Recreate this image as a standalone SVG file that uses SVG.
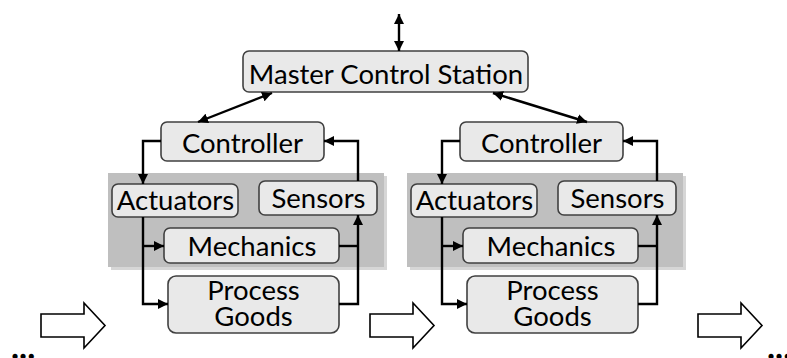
<svg xmlns="http://www.w3.org/2000/svg" width="787" height="358" viewBox="0 0 787 358">
<style>
.box{fill:#e9e9e9;stroke:#404040;stroke-width:1.6}
.bg{fill:#bfbfbf}
.sh{fill:#d6d6d6}
.t{font-family:Lato,"Liberation Sans",sans-serif;font-size:27.5px;fill:#000;text-anchor:middle}
.c{fill:none;stroke:#000;stroke-width:2.4}
.ha{fill:#fff;stroke:#000;stroke-width:1.6}
.dots{font-family:Lato,"Liberation Sans",sans-serif;font-size:34px;font-weight:bold;fill:#000}
</style>
<defs>
<marker id="ah" viewBox="0 0 10 10" refX="10" refY="5" markerWidth="10" markerHeight="10" markerUnits="userSpaceOnUse" orient="auto-start-reverse">
<path d="M0,0 L10,5 L0,10 z" fill="#000"/>
</marker>
</defs>
<g id="bg1"><rect class="sh" x="111" y="176" width="276" height="94"/><rect class="bg" x="108" y="173" width="276" height="94"/></g>
<g id="bg2" transform="translate(299,0)"><rect class="sh" x="111" y="176" width="276" height="94"/><rect class="bg" x="108" y="173" width="276" height="94"/></g>
<g id="mcs"><rect class="box" x="243" y="51" width="285" height="41" rx="6"/><text class="t" x="386" y="84">Master Control Station</text></g>
<g id="controller1"><rect class="box" x="161" y="122" width="163" height="39" rx="6"/><text class="t" x="242.5" y="153">Controller</text></g>
<g id="actuators1"><rect class="box" x="112" y="184" width="126" height="33" rx="6"/><text class="t" x="175.5" y="210">Actuators</text></g>
<g id="sensors1"><rect class="box" x="259" y="181" width="118" height="34" rx="6"/><text class="t" x="318.5" y="208">Sensors</text></g>
<g id="mechanics1"><rect class="box" x="164" y="228" width="175" height="35" rx="6"/><text class="t" x="252" y="256">Mechanics</text></g>
<g id="process1"><rect class="box" x="168" y="276" width="171" height="57" rx="8"/><text class="t" x="253.5" y="300">Process</text><text class="t" x="253.5" y="326">Goods</text></g>
<g id="controller2" transform="translate(299,0)"><rect class="box" x="161" y="122" width="163" height="39" rx="6"/><text class="t" x="242.5" y="153">Controller</text></g>
<g id="actuators2" transform="translate(299,0)"><rect class="box" x="112" y="184" width="126" height="33" rx="6"/><text class="t" x="175.5" y="210">Actuators</text></g>
<g id="sensors2" transform="translate(299,0)"><rect class="box" x="259" y="181" width="118" height="34" rx="6"/><text class="t" x="318.5" y="208">Sensors</text></g>
<g id="mechanics2" transform="translate(299,0)"><rect class="box" x="164" y="228" width="175" height="35" rx="6"/><text class="t" x="252" y="256">Mechanics</text></g>
<g id="process2" transform="translate(299,0)"><rect class="box" x="168" y="276" width="171" height="57" rx="8"/><text class="t" x="253.5" y="300">Process</text><text class="t" x="253.5" y="326">Goods</text></g>
<g id="connectors">
<path class="c" d="M399,14 V51" marker-start="url(#ah)" marker-end="url(#ah)"/>
<path class="c" d="M198,122 L272,93" marker-start="url(#ah)" marker-end="url(#ah)"/>
<path class="c" d="M587,122 L493,93" marker-start="url(#ah)" marker-end="url(#ah)"/>
<g id="loop1">
<path class="c" d="M161,141 H143 V184" marker-end="url(#ah)"/>
<path class="c" d="M358,181 V141 H324" marker-end="url(#ah)"/>
<path class="c" d="M143,217 V304 H168" marker-end="url(#ah)"/>
<path class="c" d="M143,246 H164" marker-end="url(#ah)"/>
<path class="c" d="M339,246 H358"/>
<path class="c" d="M339,304 H358 V215" marker-end="url(#ah)"/>
</g>
<g id="loop2" transform="translate(299,0)">
<path class="c" d="M161,141 H143 V184" marker-end="url(#ah)"/>
<path class="c" d="M358,181 V141 H324" marker-end="url(#ah)"/>
<path class="c" d="M143,217 V304 H168" marker-end="url(#ah)"/>
<path class="c" d="M143,246 H164" marker-end="url(#ah)"/>
<path class="c" d="M339,246 H358"/>
<path class="c" d="M339,304 H358 V215" marker-end="url(#ah)"/>
</g>
</g>
<g id="flow">
<path class="ha" d="M41,314 H84 V303 L105,325.5 L84,348 V337 H41 Z"/>
<path class="ha" d="M370,314 H413 V303 L434,325.5 L413,348 V337 H370 Z"/>
<path class="ha" d="M698,314 H741 V303 L762,325.5 L741,348 V337 H698 Z"/>
</g>
<text class="dots" x="11" y="359">...</text>
<text class="dots" x="767" y="359">...</text>
</svg>
